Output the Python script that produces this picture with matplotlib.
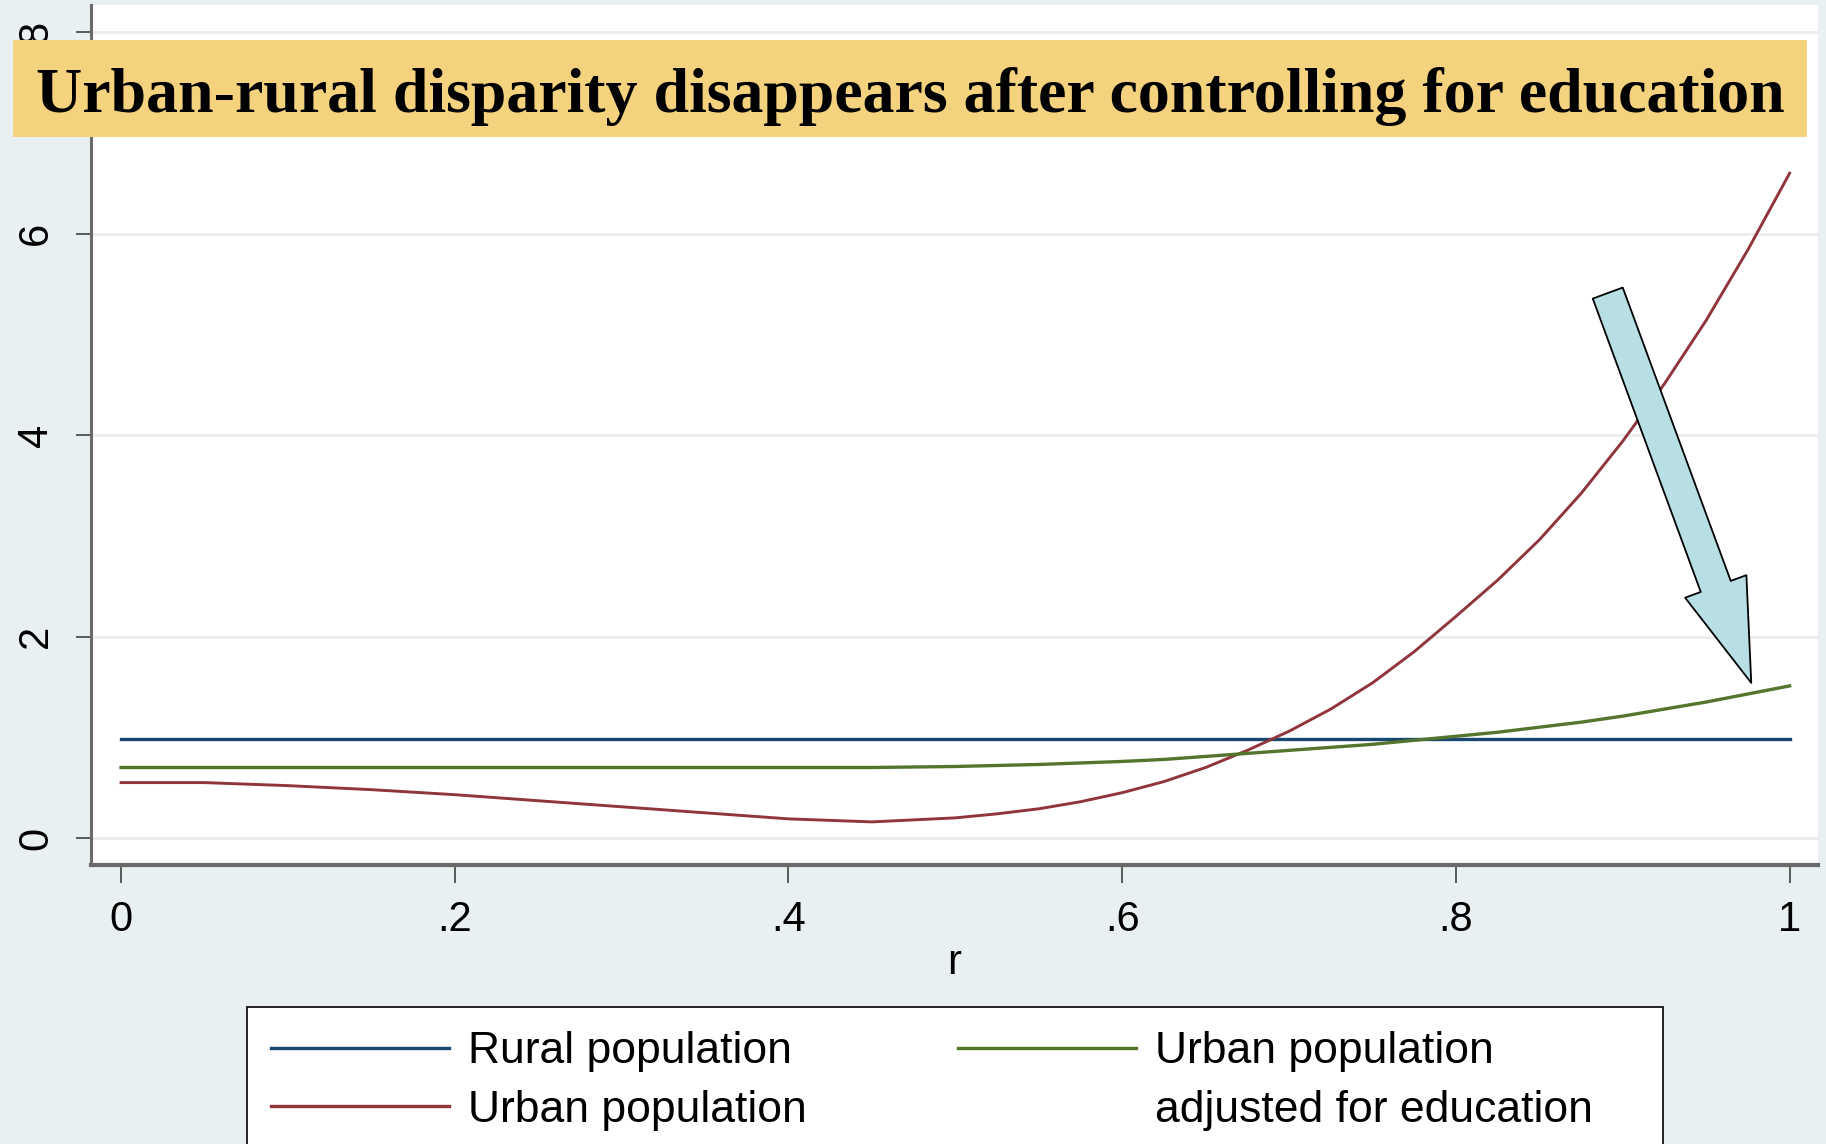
import matplotlib.pyplot as plt
from matplotlib.patches import Rectangle
from matplotlib.lines import Line2D

# values
r_vals = [0.0, 0.05, 0.1, 0.15, 0.2, 0.25, 0.3, 0.35, 0.4, 0.45, 0.5, 0.525, 0.55, 0.575, 0.6,
          0.625, 0.65, 0.675, 0.7, 0.725, 0.75, 0.775, 0.8, 0.825, 0.85, 0.875,
          0.9, 0.925, 0.95, 0.975, 1.0]
rural = [0.98] * len(r_vals)
urban = [0.55, 0.55, 0.52, 0.48, 0.43, 0.37, 0.31, 0.25, 0.19, 0.16, 0.20, 0.24, 0.29, 0.36, 0.45,
         0.56, 0.70, 0.87, 1.06, 1.28, 1.54, 1.85, 2.20, 2.56, 2.96, 3.42,
         3.94, 4.51, 5.14, 5.84, 6.60]
urban_adj = [0.70, 0.70, 0.70, 0.70, 0.70, 0.70, 0.70, 0.70, 0.70, 0.70, 0.71, 0.72, 0.73, 0.745, 0.76,
             0.78, 0.81, 0.84, 0.87, 0.90, 0.93, 0.97, 1.01, 1.05, 1.10, 1.15,
             1.21, 1.28, 1.35, 1.43, 1.51]

x_ticks = [0, 0.2, 0.4, 0.6, 0.8, 1.0]
x_ticklabels = ['0', '.2', '.4', '.6', '.8', '1']
y_ticks = [0, 2, 4, 6, 8]
y_ticklabels = ['0', '2', '4', '6', '8']

legend_labels = ['Rural population', 'Urban population',
                 'Urban population', 'adjusted for education']
title = 'Urban-rural disparity disappears after controlling for education'

navy = '#1a476f'
maroon = '#90353b'
green = '#55752f'
bg = '#e8f0f2'

W, H = 1826, 1144
fig = plt.figure(figsize=(W / 100, H / 100), dpi=100, facecolor=bg)
ax = fig.add_axes([91 / W, 1 - 865 / H, (1818 - 91) / W, (865 - 5) / H])
ax.set_facecolor('white')

for y in y_ticks:
    ax.axhline(y, color='#ececec', lw=2, zorder=0)

ax.plot(r_vals, rural, color=navy, lw=2.4)
ax.plot(r_vals, urban, color=maroon, lw=2.1)
ax.plot(r_vals, urban_adj, color=green, lw=2.4)

ax.set_xlim(-0.018, 1.017)
ax.set_ylim(-0.268, 8.27)
ax.set_xticks(x_ticks)
ax.set_xticklabels(x_ticklabels, fontsize=30, family='Liberation Sans')
ax.set_yticks(y_ticks)
ax.set_yticklabels(y_ticklabels, fontsize=30, family='Liberation Sans',
                   rotation=90, va='center')
ax.tick_params(axis='x', length=13, width=1.1, color='#333333', pad=12)
ax.tick_params(axis='y', length=11, width=1.1, color='#333333', pad=14)
ax.set_xlabel('r', fontsize=30, family='Liberation Sans', labelpad=2)

for s in ['top', 'right']:
    ax.spines[s].set_visible(False)
ax.spines['bottom'].set_linewidth(3)
ax.spines['bottom'].set_color('#6a6a6a')
ax.spines['left'].set_linewidth(2.2)
ax.spines['left'].set_color('#6a6a6a')

# arrow pointing at the adjusted curve
ax.annotate('', xy=(0.977, 1.54), xytext=(0.891, 5.41),
            arrowprops=dict(arrowstyle='simple,head_length=74,head_width=47,tail_width=23',
                            mutation_scale=1, fc='#b8dfe3', ec='black', lw=1.3,
                            shrinkA=0, shrinkB=0))

# title banner
fig.patches.append(Rectangle((13 / W, 1 - 137 / H), (1807 - 13) / W, 97 / H,
                             transform=fig.transFigure, facecolor='#f5d37e',
                             edgecolor='none', zorder=1))
fig.text(910 / W, 1 - 112 / H, title, ha='center', va='baseline',
         fontsize=46, fontweight='bold', family='Liberation Serif', zorder=3)

# legend with its own frame
fig.patches.append(Rectangle((247 / W, -0.05), (1663 - 247) / W, 1 - 1007 / H + 0.05,
                             transform=fig.transFigure, facecolor='white',
                             edgecolor='black', lw=1.2, zorder=1))
handles = [Line2D([], [], color=navy, lw=2.4),
           Line2D([], [], color=maroon, lw=2.4),
           Line2D([], [], color=green, lw=2.4),
           Line2D([], [], color='none', lw=2)]
leg = fig.legend(handles, legend_labels, ncol=2, loc='upper left',
                 bbox_to_anchor=(247 / W, 1 - 1007 / H), frameon=False,
                 prop={'family': 'Liberation Sans', 'size': 32},
                 handlelength=4.0, handletextpad=0.43, columnspacing=3.4,
                 borderpad=0.55, borderaxespad=0, labelspacing=0.39)
leg.set_zorder(4)

fig.savefig('out.png', dpi=100, facecolor=bg)
